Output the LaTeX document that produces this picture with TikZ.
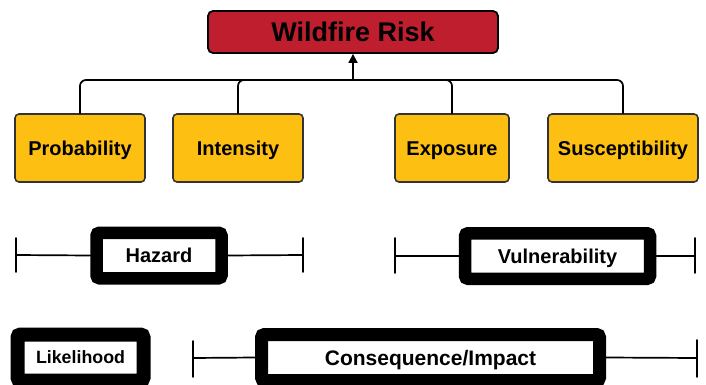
\documentclass[tikz,border=0pt]{standalone}
\usepackage{fontspec}
\setmainfont{Liberation Sans}
\usetikzlibrary{arrows.meta}
\definecolor{riskred}{HTML}{BE1E2D}
\definecolor{facyel}{HTML}{FDBF12}
\tikzset{
  riskbox/.style={draw=black, line width=1.8pt, fill=riskred, rounded corners=5pt,
    minimum width=290pt, minimum height=42pt, inner sep=0pt, text height=18.5pt, text depth=0pt,
    font=\fontsize{27}{30}\selectfont\bfseries},
  facbox/.style={draw=black!80, line width=1.6pt, fill=facyel, rounded corners=4pt,
    minimum height=68pt, inner sep=0pt, text height=14.3pt, text depth=0pt,
    font=\fontsize{20}{24}\selectfont\bfseries},
  framebox/.style={draw=black, fill=white, rounded corners=3pt,
    minimum height=46pt, inner sep=0pt, text height=14.3pt, text depth=0pt,
    font=\fontsize{20}{24}\selectfont\bfseries},
  conn/.style={draw=black, line width=1.7pt, line cap=round},
  tick/.style={draw=black, line width=1.8pt, line cap=round},
}
\begin{document}
\begin{tikzpicture}[x=1pt,y=-1pt]
\useasboundingbox (0,0) rectangle (706,385);
% top node
\node[riskbox] (risk) at (353,32) {Wildfire Risk};
% factor nodes
\node[facbox, minimum width=130pt] (prob) at (80,148) {Probability};
\node[facbox, minimum width=130pt] (inten) at (238,148) {Intensity};
\node[facbox, minimum width=114pt] (expo) at (452,148) {Exposure};
\node[facbox, minimum width=150pt] (susc) at (623,148) {Susceptibility};
\coordinate (hub) at (353,80);
\draw[conn, rounded corners=6pt] (prob.north) |- (hub) -| (susc.north);
\draw[conn, rounded corners=6pt] (inten.north) |- (hub);
\draw[conn, rounded corners=6pt] (expo.north) |- (hub);
\draw[conn, -{Triangle[width=9pt,length=9pt]}] (hub) -- (risk.south);
% Hazard row
\node[framebox, line width=12.5pt, minimum width=125pt, minimum height=45.5pt] (haz) at (159,255.5) {Hazard};
\coordinate (hazL) at (16,255);
\coordinate (hazR) at (303,255);
\draw[tick] (16,238) -- (16,272);
\draw[tick] (303,238) -- (303,272);
\draw[conn] (hazL) -- (haz.west);
\draw[conn] (haz.east) -- (hazR);
% Vulnerability row
\node[framebox, line width=12.5pt, minimum width=185pt, minimum height=45.5pt] (vul) at (557.5,256) {Vulnerability};
\coordinate (vulL) at (395,256);
\coordinate (vulR) at (695,256);
\draw[tick] (395,238) -- (395,273);
\draw[tick] (695,238) -- (695,273);
\draw[conn] (vulL) -- (vul.west);
\draw[conn] (vul.east) -- (vulR);
% Likelihood
\node[framebox, line width=14pt, minimum width=126pt, minimum height=46pt, text height=12.7pt,
  font=\fontsize{17.8}{21}\selectfont\bfseries] (like) at (80.5,357.5) {Likelihood};
% Consequence
\node[framebox, line width=13pt, minimum width=338pt, minimum height=46pt, text height=15pt,
  font=\fontsize{21}{25}\selectfont\bfseries] (cons) at (430.5,357.5) {Consequence/Impact};
\coordinate (conL) at (193,358);
\coordinate (conR) at (697,358);
\draw[tick] (193,341) -- (193,377);
\draw[tick] (697,340) -- (697,377);
\draw[conn] (conL) -- (cons.west);
\draw[conn] (cons.east) -- (conR);
\end{tikzpicture}
\end{document}
